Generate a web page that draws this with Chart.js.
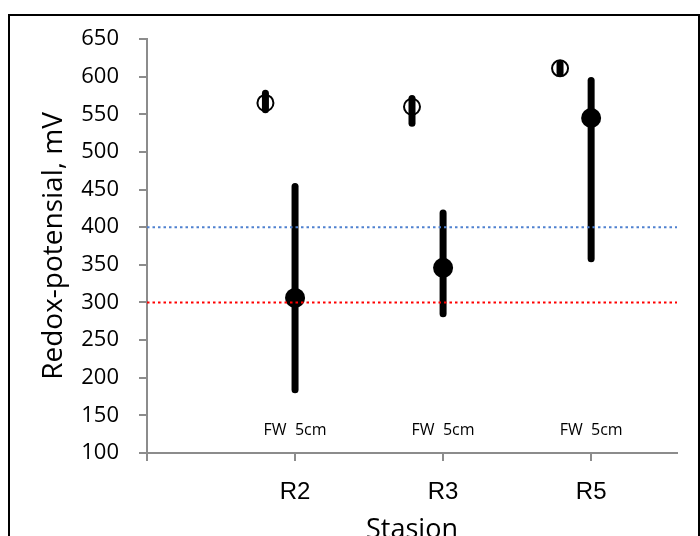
<!DOCTYPE html>
<html>
<head>
<meta charset="utf-8">
<script src="https://cdn.jsdelivr.net/npm/chart.js@4.4.1/dist/chart.umd.min.js"></script>
<style>
  html, body { margin: 0; padding: 0; background: #fff; overflow: hidden; }
  #frame { position: absolute; left: 8px; top: 14px; width: 688px; height: 600px; border: 2px solid #000; }
  #chart { position: absolute; left: 0; top: 0; }
</style>
</head>
<body>
<div id="frame"></div>
<canvas id="chart" width="700" height="560"></canvas>
<script>
// stations on the x axis
const stations = ['R2', 'R3', 'R5'];
const stationX = [1, 2, 3];
const fwX = [0.8, 1.79, 2.79];
const noteLabels = ['FW  5cm', 'FW  5cm', 'FW  5cm'];
const noteY = 130;

// 5 cm (filled dots)
const mean5 = [306, 346, 545];
const low5 = [184, 285, 358];
const high5 = [454, 419, 595];

// FW (open dots)
const meanFW = [565, 560, 611];
const lowFW = [556, 538, 605];
const highFW = [578, 571, 617];

// reference levels
const blueLevel = 400;
const redLevel = 300;
const xMax = 3.58;

// error bars + FW notes, drawn under the points
const errorBars = {
  id: 'errorBars',
  beforeDatasetsDraw(chart) {
    const { ctx, scales: { x, y } } = chart;
    ctx.save();
    ctx.strokeStyle = '#000';
    ctx.lineWidth = 7;
    ctx.lineCap = 'round';
    const draw = (xs, lows, highs) => xs.forEach((v, i) => {
      const px = x.getPixelForValue(v);
      ctx.beginPath();
      ctx.moveTo(px, y.getPixelForValue(lows[i]));
      ctx.lineTo(px, y.getPixelForValue(highs[i]));
      ctx.stroke();
    });
    draw(stationX, low5, high5);
    draw(fwX, lowFW, highFW);

    ctx.fillStyle = '#000';
    ctx.font = '16px "Open Sans"';
    ctx.textAlign = 'center';
    ctx.textBaseline = 'middle';
    stationX.forEach((v, i) => {
      ctx.fillText(noteLabels[i], x.getPixelForValue(v), y.getPixelForValue(noteY));
    });
    ctx.restore();
  }
};

const refLine = (level, color) => ({
  type: 'line',
  data: [{ x: 0, y: level }, { x: xMax, y: level }],
  borderColor: color,
  borderWidth: 2,
  borderDash: [2.5, 3],
  pointRadius: 0,
  order: 0
});

new Chart(document.getElementById('chart'), {
  type: 'scatter',
  data: {
    datasets: [
      refLine(blueLevel, '#4f81cf'),
      refLine(redLevel, '#ff0000'),
      {
        label: '5cm',
        data: stationX.map((x, i) => ({ x, y: mean5[i] })),
        pointRadius: 10,
        backgroundColor: '#000',
        borderColor: '#000',
        borderWidth: 0,
        order: 1
      },
      {
        label: 'FW',
        data: fwX.map((x, i) => ({ x, y: meanFW[i] })),
        pointRadius: 8,
        backgroundColor: 'rgba(0,0,0,0)',
        borderColor: '#000',
        borderWidth: 2,
        order: 1
      }
    ]
  },
  options: {
    responsive: false,
    animation: false,
    devicePixelRatio: 1,
    layout: { padding: { top: 39, right: 23, left: 0, bottom: 0 } },
    plugins: { legend: { display: false }, tooltip: { enabled: false } },
    scales: {
      x: {
        type: 'linear',
        min: 0,
        max: xMax,
        afterFit: s => { s.height = 107; },
        ticks: {
          stepSize: 1,
          includeBounds: false,
          autoSkip: false,
          maxRotation: 0,
          padding: 17,
          color: '#000',
          font: { family: '"Liberation Sans", Arial', size: 24 },
          callback: v => {
            const i = stationX.indexOf(v);
            return i >= 0 ? stations[i] : '';
          }
        },
        grid: { drawOnChartArea: false, tickLength: 8, color: '#8c8c8c', lineWidth: 2 },
        border: { color: '#8c8c8c', width: 2 },
        title: {
          display: true,
          text: 'Stasion',
          color: '#000',
          font: { family: '"Open Sans"', size: 27 },
          padding: { top: 0, bottom: 13 }
        }
      },
      y: {
        min: 100,
        max: 650,
        afterFit: s => { s.width = 147; },
        ticks: {
          stepSize: 50,
          padding: 20,
          color: '#000',
          font: { family: '"Open Sans"', size: 22 }
        },
        grid: { drawOnChartArea: false, tickLength: 8, color: '#8c8c8c', lineWidth: 2 },
        border: { color: '#8c8c8c', width: 2 },
        title: {
          display: true,
          text: 'Redox-potensial, mV',
          color: '#000',
          font: { family: '"Open Sans"', size: 28 },
          padding: { top: 37, bottom: 0 }
        }
      }
    }
  },
  plugins: [errorBars]
});
</script>
</body>
</html>
